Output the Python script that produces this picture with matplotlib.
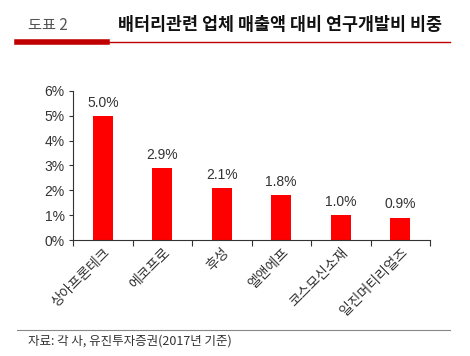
import matplotlib
matplotlib.use("Agg")
import matplotlib.pyplot as plt
import numpy as np

plt.rcParams['font.family'] = ['Noto Sans CJK KR', 'DejaVu Sans']
NUM_FONT = ['Liberation Sans', 'DejaVu Sans']

# data
companies = ['상아프론테크', '에코프로', '후성', '엘앤에프', '코스모신소재', '일진머티리얼즈']
rd_ratio = [5.0, 2.9, 2.1, 1.8, 1.0, 0.9]
y_ticks = [0, 1, 2, 3, 4, 5, 6]

W, H = 470, 356
fig = plt.figure(figsize=(W / 100, H / 100), dpi=100)
ax = fig.add_axes([73 / W, 1 - 240 / H, (430 - 73) / W, (240 - 91) / H])

x = np.arange(len(companies))
ax.bar(x, rd_ratio, width=0.33, color='#ff0000')
for xi, v in zip(x, rd_ratio):
    ax.text(xi, v + 0.25, f'{v:.1f}%', ha='center', va='bottom', fontsize=10,
            color='#333333', family=NUM_FONT)

ax.set_xlim(-0.5, len(companies) - 0.5)
ax.set_ylim(0, 6)
ax.set_yticks(y_ticks)
ax.set_yticklabels([f'{t}%' for t in y_ticks], fontsize=10, color='#333333', family=NUM_FONT)
ax.set_xticks(np.arange(len(companies) + 1) - 0.5)
ax.set_xticklabels([])
ax.set_xticks(x, minor=True)
ax.set_xticklabels(companies, minor=True, rotation=45, ha='right', rotation_mode='anchor',
                   fontsize=10, color='#333333')
ax.tick_params(axis='x', which='minor', length=0, pad=4)
ax.tick_params(axis='x', which='major', length=4, direction='out', color='#333333')
ax.tick_params(axis='y', length=3, direction='out', color='#333333', pad=3)
for s in ['top', 'right']:
    ax.spines[s].set_visible(False)
ax.spines['left'].set_color('#333333')
ax.spines['bottom'].set_color('#333333')

# header
fig.text(28 / W, 1 - 25 / H, '도표 2', fontsize=11, color='#555555', va='center')
fig.text(118 / W, 1 - 25 / H, '배터리관련 업체 매출액 대비 연구개발비 비중', fontsize=12.5,
         fontweight='bold', color='#111111', va='center')
fig.add_artist(plt.Line2D([17 / W, 107 / W], [1 - 41.5 / H, 1 - 41.5 / H], color='#c00000', lw=4))
fig.add_artist(plt.Line2D([107 / W, 450 / W], [1 - 42 / H, 1 - 42 / H], color='#c00000', lw=1))

# footer
fig.add_artist(plt.Line2D([17 / W, 450 / W], [1 - 330 / H, 1 - 330 / H], color='#888888', lw=0.8))
fig.text(28 / W, 1 - 341 / H, '자료: 각 사, 유진투자증권(2017년 기준)', fontsize=9, color='#333333', va='center')

fig.savefig('out.png', dpi=100)
